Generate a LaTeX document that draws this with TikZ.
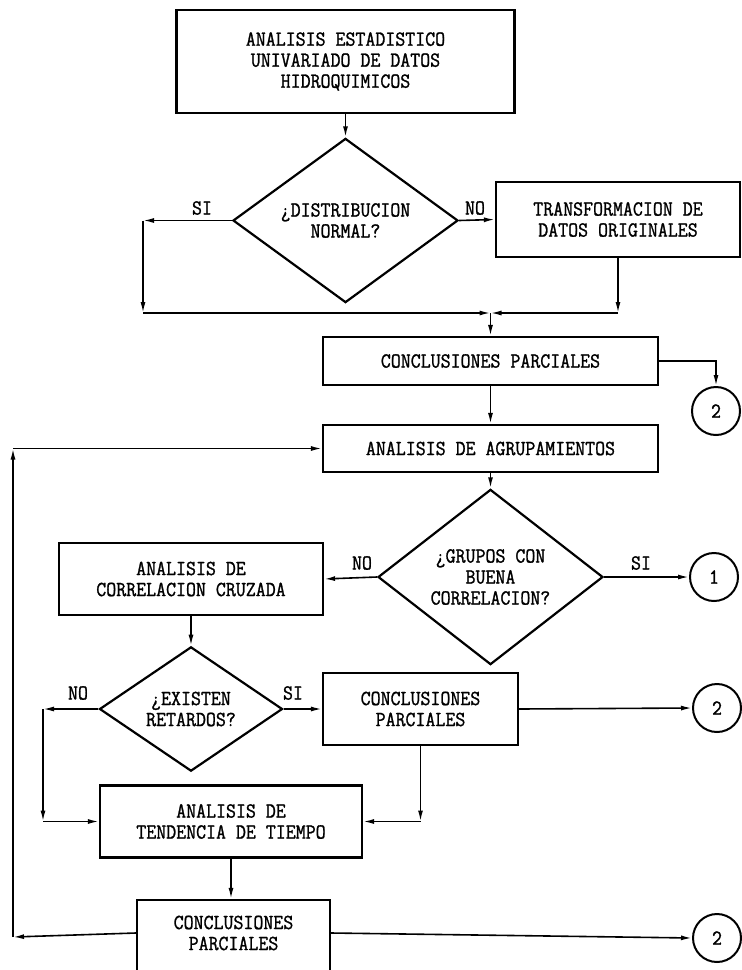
\documentclass[tikz,border=0pt]{standalone}
\usepackage{fontspec}
\newfontfamily\tw{Latin Modern Mono}[FakeBold=1.2,FakeStretch=0.9]
\usetikzlibrary{arrows.meta,shapes.geometric}
\begin{document}
\begin{tikzpicture}[x=1pt,y=-1pt,
  txt/.style={font=\tw\fontsize{21.5}{21}\selectfont,align=center},
  box/.style={txt,draw,line width=2.2pt,inner sep=0pt},
  dia/.style={txt,draw,shape=diamond,line width=2.2pt,inner sep=0pt},
  conn/.style={circle,draw,line width=2pt,minimum size=48pt,inner sep=0pt,font=\tw\fontsize{21.5}{21}\selectfont},
  lbl/.style={font=\tw\fontsize{21.5}{21}\selectfont,inner sep=0pt},
  arr/.style={line width=1.6pt,-{Latex[length=11pt,width=5pt]}}]
\useasboundingbox (0,0) rectangle (742,970);
\clip (0,0) rectangle (742,970);
\fill[white] (0,0) rectangle (742,970);

% nodes
\node[box,minimum width=338pt,minimum height=103pt] (top) at (345.5,61.5)
  {ANALISIS ESTADISTICO\\UNIVARIADO DE DATOS\\HIDROQUIMICOS};
\node[dia,minimum width=225pt,minimum height=133pt] (d1) at (345.5,220.5)
  {¿DISTRIBUCION\\NORMAL?};
\node[box,minimum width=244pt,minimum height=75pt] (tr) at (618,219.5)
  {TRANSFORMACION DE\\DATOS ORIGINALES};
\coordinate (m) at (490.5,313);
\coordinate (c1) at (143,220.5);
\coordinate (c2) at (143,313);
\coordinate (c3) at (618,313);
\node[box,minimum width=335pt,minimum height=48pt] (cp1) at (490.5,361)
  {CONCLUSIONES PARCIALES};
\node[conn] (k2a) at (716,411) {2};
\node[box,minimum width=335pt,minimum height=47pt] (agr) at (490.5,448.5)
  {ANALISIS DE AGRUPAMIENTOS};
\node[dia,minimum width=225pt,minimum height=130pt] (d2) at (490.5,577)
  {¿GRUPOS CON\\BUENA\\CORRELACION?};
\node[conn] (k1) at (714,577) {1};
\node[box,minimum width=264pt,minimum height=72pt] (corr) at (191,579)
  {ANALISIS DE\\CORRELACION CRUZADA};
\node[dia,minimum width=183pt,minimum height=106pt] (d3) at (191,709)
  {¿EXISTEN\\RETARDOS?};
\node[box,minimum width=195pt,minimum height=72pt] (cp2) at (420.5,709)
  {CONCLUSIONES\\PARCIALES};
\node[conn] (k2b) at (717,708) {2};
\node[box,minimum width=262pt,minimum height=72pt] (tend) at (231,821.5)
  {ANALISIS DE\\TENDENCIA DE TIEMPO};
\node[box,minimum width=193pt,minimum height=90pt] (cp3) at (233.5,945) {};
\node[txt,inner sep=0pt] (cp3t) at (233.5,933) {CONCLUSIONES\\PARCIALES};
\node[conn] (k2c) at (717,938) {2};
\coordinate (c5) at (43,709);
\coordinate (c6) at (43,821.5);
\coordinate (c8) at (13,937);
\coordinate (c9) at (13,448.5);

% labels
\node[lbl] (l1) at (202,208) {SI};
\node[lbl] (l2) at (475,208) {NO};
\node[lbl] (l3) at (362,563) {NO};
\node[lbl] (l4) at (641,563) {SI};
\node[lbl] (l5) at (78,693) {NO};
\node[lbl] (l6) at (293,693) {SI};

% connectors
\draw[arr] (top.south) -- (d1.north);
\draw[arr] (d1.west) -- (c1);
\draw[arr] (c1) -- (c2);
\draw[arr] (c2) -- (m);
\draw[arr] (d1.east) -- (tr.west);
\draw[arr] (tr.south) -- (c3);
\draw[arr] (c3) -- (m);
\draw[arr] (m) -- (cp1.north);
\draw[arr] (cp1.east) -| (k2a.north);
\draw[arr] (cp1.south) -- (agr.north);
\draw[arr] (agr.south) -- (d2.north);
\draw[arr] (d2.east) -- (k1.west);
\draw[arr] (d2.west) -- (corr.east);
\draw[arr] (corr.south) -- (d3.north);
\draw[arr] (d3.east) -- (cp2.west);
\draw[arr] (d3.west) -- (c5);
\draw[arr] (c5) -- (c6);
\draw[arr] (c6) -- (tend.west);
\draw[arr] (cp2.east) -- (k2b.west);
\coordinate (c7) at (cp2.south |- tend.east);
\draw[arr] (cp2.south) -- (c7);
\draw[arr] (c7) -- (tend.east);
\draw[arr] (tend.south) -- (tend.south |- cp3.north);
\draw[arr] (cp3t -| cp3.west) -- (c8);
\draw[arr] (c8) -- (c9);
\draw[arr] (c9) -- (agr.west);
\draw[arr] (cp3t -| cp3.east) -- (k2c.west);
\end{tikzpicture}
\end{document}
